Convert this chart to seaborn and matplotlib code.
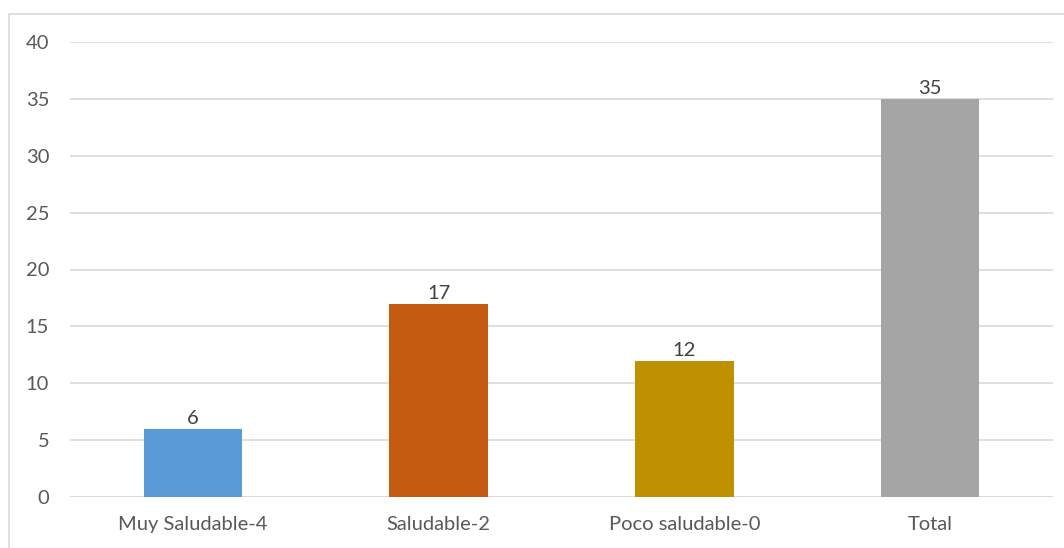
import matplotlib
matplotlib.use("Agg")
import matplotlib.pyplot as plt
import seaborn as sns
import pandas as pd
from matplotlib.patches import Rectangle

categories = ["Muy Saludable-4", "Saludable-2", "Poco saludable-0", "Total"]
values = [6, 17, 12, 35]
colors = ["#5B9BD5", "#C55A11", "#BF9000", "#A5A5A5"]
yticks = [0, 5, 10, 15, 20, 25, 30, 35, 40]

sns.set_theme(style="white")
plt.rcParams['font.family'] = ['Lato', 'DejaVu Sans']

df = pd.DataFrame({"cat": categories, "val": values})

fig = plt.figure(figsize=(10.64, 5.48), dpi=100)
ax = fig.add_axes([70/1064, 1-497/548, 983/1064, 455/548])

sns.barplot(data=df, x="cat", y="val", hue="cat", palette=colors, width=0.4,
            legend=False, ax=ax, saturation=1, zorder=3, linewidth=0)

ax.set_ylim(0, 40)
ax.set_yticks(yticks)
ax.yaxis.grid(True, color="#D9D9D9", linewidth=1.2, zorder=0)
ax.set_axisbelow(True)
for s in ax.spines.values():
    s.set_visible(False)
ax.axhline(0, color="#D9D9D9", linewidth=1.2, zorder=1)
ax.set_xlabel("")
ax.set_ylabel("")
ax.tick_params(axis="y", length=0, pad=15, labelsize=14.5, labelcolor="#595959")
ax.tick_params(axis="x", length=0, pad=14, labelsize=14.5, labelcolor="#595959")

for c in ax.containers:
    ax.bar_label(c, fmt="%g", padding=1, fontsize=14.5, color="#404040")

fig.patches.append(Rectangle((9/1064, -0.1), 1.2, 1.1 - 14/548,
                             transform=fig.transFigure, fill=False,
                             edgecolor="#D9D9D9", linewidth=1.2))

fig.savefig("out.png", dpi=100)
